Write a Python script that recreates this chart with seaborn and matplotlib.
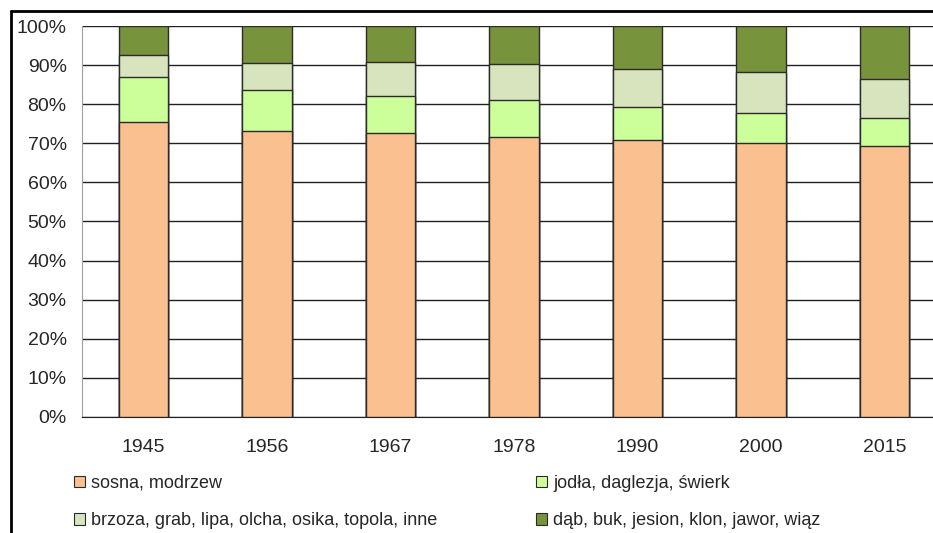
import matplotlib
matplotlib.use("Agg")
import matplotlib.pyplot as plt
from matplotlib.patches import Patch
from matplotlib.lines import Line2D
import numpy as np
import pandas as pd
import seaborn as sns

# dane (udział procentowy gatunków)
years = ["1945", "1956", "1967", "1978", "1990", "2000", "2015"]
sosna = [75.4, 73.1, 72.6, 71.6, 70.8, 70.0, 69.3]
jodla = [11.7, 10.6, 9.5, 9.5, 8.5, 7.7, 7.2]
brzoza = [5.6, 7.0, 8.8, 9.3, 9.8, 10.7, 10.0]
dab = [7.3, 9.3, 9.1, 9.6, 10.9, 11.6, 13.5]

series_names = [
    "sosna, modrzew",
    "jodła, daglezja, świerk",
    "brzoza, grab, lipa, olcha, osika, topola, inne",
    "dąb, buk, jesion, klon, jawor, wiąz",
]
colors = ["#FAC090", "#CCFF99", "#D7E4BD", "#77933C"]

sns.set_style("white")
plt.rcParams["font.family"] = ["Liberation Sans", "DejaVu Sans"]

df = pd.DataFrame({"rok": years, "s0": sosna, "s1": jodla, "s2": brzoza, "s3": dab})
values = df[["s0", "s1", "s2", "s3"]].to_numpy()
cum = np.cumsum(values, axis=1)
total = cum[:, -1:]
cum = cum / total * 100  # normalizacja do 100%

fig = plt.figure(figsize=(9.33, 5.33), dpi=100)
ax = fig.add_axes([0.0879, 0.2182, 0.926, 0.7325])

# słupki skumulowane - od góry do dołu, żeby niższe przykrywały wyższe
for i in range(3, -1, -1):
    sns.barplot(x=df["rok"], y=cum[:, i], color=colors[i], width=0.4,
                edgecolor="#2b2b2b", linewidth=1.0, saturation=1, ax=ax, zorder=3)

ax.set_ylim(0, 100)
ax.set_xlim(-0.5, 6.5)
ax.set_yticks(np.arange(0, 101, 10))
ax.set_yticklabels([f"{v}%" for v in range(0, 101, 10)], fontsize=14)
ax.yaxis.grid(True, color="#202020", linewidth=1.0, zorder=0)
ax.set_axisbelow(True)
ax.set_xlabel("")
ax.set_ylabel("")
ax.tick_params(axis="x", which="major", length=0, pad=16, labelsize=14)
ax.set_xticks(np.arange(-0.5, 7, 1), minor=True)
ax.tick_params(axis="x", which="minor", length=5, color="#202020", width=1, direction="out")
ax.tick_params(axis="y", length=5, color="#909090", width=1, direction="out", pad=6)

for s in ["top", "right"]:
    ax.spines[s].set_visible(False)
ax.spines["left"].set_color("#a0a0a0")
ax.spines["bottom"].set_color("#202020")

# ramka wykresu (lewa i górna krawędź)
fig.add_artist(Line2D([10.5 / 933, 10.5 / 933], [0, 1 - 11 / 533], color="black", linewidth=2))
fig.add_artist(Line2D([10.5 / 933, 1], [1 - 11 / 533, 1 - 11 / 533], color="black", linewidth=2))

# legenda: kolejność tak, by wiersze były jak w oryginale
order = [0, 2, 1, 3]
handles = [Patch(facecolor=colors[i], edgecolor="#2b2b2b", linewidth=0.8) for i in order]
labels = [series_names[i] for i in order]
fig.legend(handles, labels, loc="upper left", bbox_to_anchor=(0.062, 0.14),
           ncol=2, frameon=False, fontsize=13, handlelength=0.6, handleheight=0.6,
           handletextpad=0.35, columnspacing=5.45, labelspacing=1.15)

fig.savefig("out.png", dpi=100)
